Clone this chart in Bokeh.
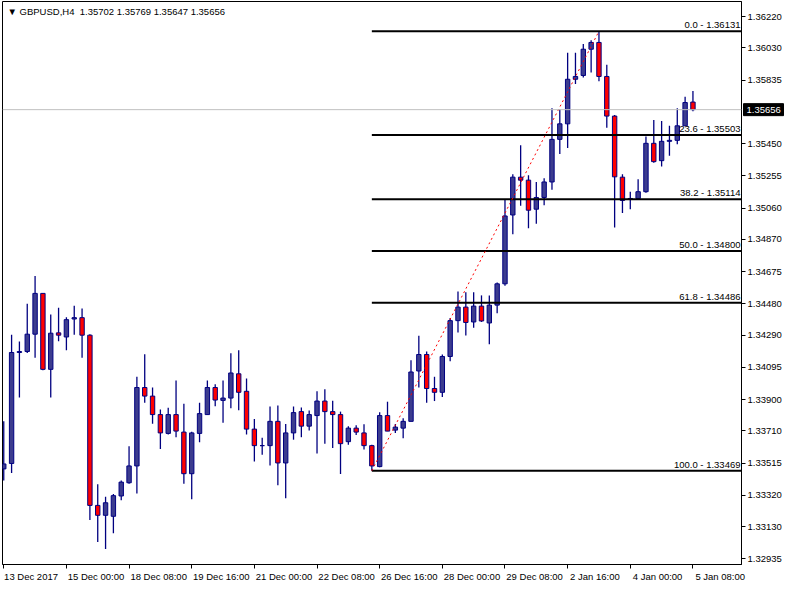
from bokeh.plotting import figure
from bokeh.models import Range1d, FixedTicker, Label, Span, ColumnDataSource, PrintfTickFormatter
from bokeh.core.properties import value
from bokeh.embed import file_html
from bokeh.resources import INLINE

symbol = "GBPUSD,H4"

opens = [1.33480, 1.33513, 1.34185, 1.34191, 1.34296, 1.34543, 1.34083, 1.34304, 1.34279, 1.34388,
         1.34396, 1.34290, 1.33259, 1.33199, 1.33193, 1.33316, 1.33396, 1.33498, 1.33973, 1.33921,
         1.33809, 1.33695, 1.33809, 1.33703, 1.33451, 1.33695, 1.33809, 1.33973, 1.33895, 1.33909,
         1.34056, 1.33950, 1.33721, 1.33621, 1.33621, 1.33768, 1.33516, 1.33698, 1.33827, 1.33739,
         1.33803, 1.33891, 1.33827, 1.33809, 1.33645, 1.33727, 1.33698, 1.33621, 1.33494, 1.33803,
         1.33715, 1.33727, 1.33768, 1.34073, 1.34173, 1.33967, 1.33944, 1.34161, 1.34378, 1.34460,
         1.34370, 1.34466, 1.34364, 1.34472, 1.34601, 1.35018, 1.35247, 1.35229, 1.35053, 1.35124,
         1.35218, 1.35476, 1.35570, 1.35840, 1.35863, 1.36022, 1.36063, 1.35857, 1.35617, 1.35247,
         1.35112, 1.35118, 1.35159, 1.35452, 1.35347, 1.35464, 1.35470, 1.35558, 1.35702]

highs = [1.33768, 1.34292, 1.34251, 1.34480, 1.34648, 1.34543, 1.34415, 1.34456, 1.34398, 1.34468,
         1.34451, 1.34296, 1.33387, 1.33312, 1.33328, 1.33410, 1.33617, 1.34038, 1.34175, 1.33973,
         1.33840, 1.33850, 1.34016, 1.33875, 1.33705, 1.33881, 1.34016, 1.33993, 1.34016, 1.34181,
         1.34198, 1.34028, 1.33782, 1.33668, 1.33858, 1.33864, 1.33752, 1.33858, 1.33852, 1.33833,
         1.33950, 1.33963, 1.33893, 1.33827, 1.33739, 1.33745, 1.33750, 1.33627, 1.33823, 1.33887,
         1.33752, 1.33787, 1.34138, 1.34286, 1.34191, 1.34038, 1.34173, 1.34394, 1.34554, 1.34550,
         1.34550, 1.34531, 1.34531, 1.34609, 1.35108, 1.35265, 1.35441, 1.35259, 1.35218, 1.35241,
         1.35665, 1.35658, 1.36000, 1.36000, 1.36053, 1.36076, 1.36131, 1.35928, 1.35623, 1.35265,
         1.35159, 1.35235, 1.35493, 1.35593, 1.35587, 1.35558, 1.35664, 1.35734, 1.35769]

lows = [1.33410, 1.33455, 1.33912, 1.34182, 1.34153, 1.34077, 1.33912, 1.34253, 1.34198, 1.34292,
        1.34153, 1.33171, 1.33038, 1.32995, 1.33091, 1.33290, 1.33390, 1.33331, 1.33880, 1.33754,
        1.33601, 1.33689, 1.33672, 1.33390, 1.33296, 1.33642, 1.33809, 1.33860, 1.33760, 1.33848,
        1.33836, 1.33689, 1.33525, 1.33566, 1.33501, 1.33381, 1.33302, 1.33657, 1.33672, 1.33713,
        1.33574, 1.33633, 1.33607, 1.33449, 1.33627, 1.33686, 1.33598, 1.33469, 1.33490, 1.33709,
        1.33698, 1.33666, 1.33768, 1.33973, 1.33880, 1.33891, 1.33915, 1.34132, 1.34306, 1.34288,
        1.34335, 1.34370, 1.34235, 1.34423, 1.34590, 1.34902, 1.35074, 1.34938, 1.34965, 1.35077,
        1.35171, 1.35388, 1.35423, 1.35812, 1.35851, 1.35881, 1.35828, 1.35546, 1.34942, 1.35030,
        1.35053, 1.35114, 1.35153, 1.35335, 1.35312, 1.35376, 1.35447, 1.35558, 1.35647]

closes = [1.33510, 1.34185, 1.34191, 1.34296, 1.34543, 1.34083, 1.34302, 1.34290, 1.34384, 1.34396,
          1.34290, 1.33259, 1.33199, 1.33275, 1.33318, 1.33400, 1.33498, 1.33973, 1.33921, 1.33809,
          1.33698, 1.33809, 1.33709, 1.33451, 1.33698, 1.33815, 1.33973, 1.33897, 1.33909, 1.34061,
          1.33944, 1.33721, 1.33621, 1.33621, 1.33768, 1.33516, 1.33698, 1.33821, 1.33739, 1.33809,
          1.33891, 1.33827, 1.33809, 1.33633, 1.33727, 1.33703, 1.33621, 1.33498, 1.33803, 1.33709,
          1.33733, 1.33768, 1.34067, 1.34173, 1.33967, 1.33944, 1.34161, 1.34378, 1.34460, 1.34367,
          1.34466, 1.34376, 1.34472, 1.34601, 1.35012, 1.35247, 1.35229, 1.35047, 1.35124, 1.35218,
          1.35476, 1.35570, 1.35840, 1.35857, 1.36022, 1.36063, 1.35857, 1.35617, 1.35249, 1.35106,
          1.35118, 1.35159, 1.35452, 1.35341, 1.35464, 1.35470, 1.35558, 1.35699, 1.35656]

date_label_bars = [0, 8, 16, 24, 32, 40, 48, 56, 64, 72, 80, 88]
date_labels = ["13 Dec 2017", "15 Dec 00:00", "18 Dec 08:00", "19 Dec 16:00", "21 Dec 00:00",
               "22 Dec 08:00", "26 Dec 16:00", "28 Dec 00:00", "29 Dec 08:00", "2 Jan 16:00",
               "4 Jan 00:00", "5 Jan 08:00"]

price_ticks = [1.36220, 1.36030, 1.35835, 1.35450, 1.35255, 1.35060, 1.34870, 1.34675, 1.34480,
               1.34290, 1.34095, 1.33900, 1.33710, 1.33515, 1.33320, 1.33130, 1.32935]

fib_ratios = [0.0, 23.6, 38.2, 50.0, 61.8, 100.0]
fib_prices = [1.36131, 1.35503, 1.35114, 1.34800, 1.34486, 1.33469]
fib_low_bar = 47
fib_high_bar = 76
current_price = closes[-1]

# ---- layout ----
W, H = 784, 584
BL, BR, BT, BB = 2, 43, 1, 17
FW, FH = W - BL - BR, H - BT - BB
x_start, x_end = -0.16, 94.2
y_start, y_end = 1.32901, 1.36311
px_per_bar = FW / (x_end - x_start)

FONT = "Liberation Sans"
FS = "9.5px"

p = figure(width=W, height=H, x_range=Range1d(x_start, x_end), y_range=Range1d(y_start, y_end),
           y_axis_location="right", output_backend="svg", toolbar_location=None,
           min_border_left=BL, min_border_right=BR, min_border_top=BT, min_border_bottom=BB,
           background_fill_color="white", border_fill_color="white",
           outline_line_color="black", outline_line_width=1)
p.xgrid.visible = False
p.ygrid.visible = False

n = len(opens)
bars = list(range(n))
up = [c >= o for o, c in zip(opens, closes)]
src = ColumnDataSource(dict(
    x=bars, o=opens, h=highs, l=lows, c=closes,
    top=[max(o, c) for o, c in zip(opens, closes)],
    bottom=[min(o, c) for o, c in zip(opens, closes)],
    fill=["#3c3c8e" if u else "#ff0000" for u in up],
))

# current price line
p.add_layout(Span(location=current_price, dimension="width", line_color="#c0c0c0", line_width=1))

p.segment(x0="x", x1="x", y0="l", y1="h", source=src, line_color="#000080", line_width=1.3)
p.vbar(x="x", width=0.56, top="top", bottom="bottom", source=src,
       fill_color="fill", line_color="#000080", line_width=1)

# fibonacci levels
p.segment(x0=[fib_low_bar] * len(fib_prices), x1=[x_end] * len(fib_prices),
          y0=fib_prices, y1=fib_prices, line_color="black", line_width=2)
for r, pr in zip(fib_ratios, fib_prices):
    p.add_layout(Label(x=x_end, y=pr, text=f"{r:.1f} - {pr:.5f}", text_align="right",
                       text_baseline="bottom", x_offset=-1, y_offset=1,
                       text_font=FONT, text_font_size=FS, text_color="black"))

# trend line
p.line(x=[fib_low_bar, fib_high_bar], y=[fib_prices[-1], fib_prices[0]],
       line_color="red", line_width=1, line_dash="2 3")

# y axis
ya = p.yaxis[0]
ya.ticker = FixedTicker(ticks=price_ticks)
ya.formatter = PrintfTickFormatter(format="%.5f")
ya.major_tick_out = 4
ya.major_tick_in = 0
ya.minor_tick_out = 0
ya.minor_tick_in = 0
ya.major_label_standoff = 2
ya.major_label_text_font = FONT
ya.major_label_text_font_size = FS
ya.major_label_text_color = "black"
ya.axis_line_color = "black"
ya.major_tick_line_color = "black"

# x axis: labels left-aligned at their tick (MetaTrader style)
label_pos = [round(b + (2 + len(t) * 4.6 / 2) / px_per_bar, 3) for b, t in zip(date_label_bars, date_labels)]
xa = p.xaxis[0]
xa.ticker = FixedTicker(ticks=label_pos, minor_ticks=date_label_bars)
xa.major_label_overrides = {pos: t for pos, t in zip(label_pos, date_labels)}
xa.major_tick_out = 0
xa.major_tick_in = 0
xa.minor_tick_out = 4
xa.minor_tick_in = 0
xa.minor_tick_line_color = "black"
xa.major_label_standoff = 2
xa.major_label_text_font = FONT
xa.major_label_text_font_size = FS
xa.major_label_text_color = "black"
xa.axis_line_color = "black"

# current price tag over the price axis (overlay level glyphs)
tag_w_px, tag_h_px = 40, 12
tag_x = x_end + (2 + tag_w_px / 2) / px_per_bar
p.rect(x=[tag_x], y=[current_price], width=tag_w_px, height=tag_h_px,
       width_units="screen", height_units="screen",
       fill_color="black", line_color="black", level="overlay")
p.text(x=[x_end], y=[current_price], text=[f"{current_price:.5f}"], x_offset=5,
       text_baseline="middle", text_align="left", text_color="white",
       text_font=value(FONT), text_font_size=FS, level="overlay")

# header
header = f"\u25BC {symbol}\u00a0\u00a0{opens[-1]:.5f} {highs[-1]:.5f} {lows[-1]:.5f} {closes[-1]:.5f}"
p.add_layout(Label(x=x_start, y=y_end, text=header, x_offset=5, y_offset=-10,
                   text_baseline="middle", text_font=FONT, text_font_size=FS, text_color="black"))

open("out.html", "w").write(file_html(p, INLINE))
